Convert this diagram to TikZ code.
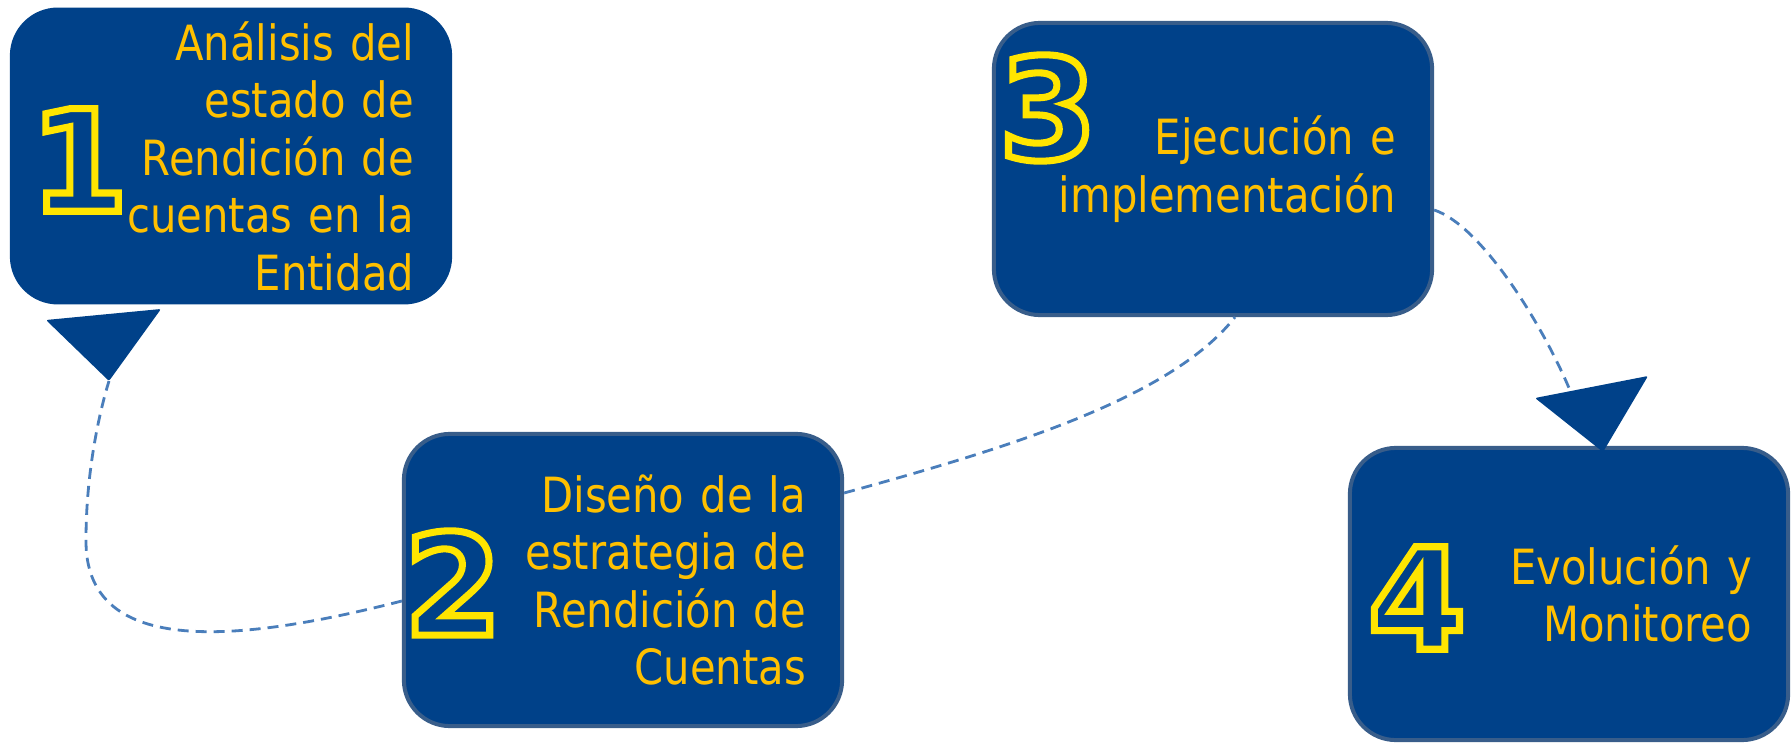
\documentclass[tikz,border=0pt]{standalone}
\usepackage{fontspec}
\usepackage{xcolor}
\usetikzlibrary{calc}

\newfontfamily\cajafont{DejaVu Sans}[FakeStretch=0.86]
\newfontfamily\numfont{DejaVu Sans}

\definecolor{azul}{RGB}{0,65,137}
\definecolor{borde}{HTML}{385D8A}
\definecolor{linea}{HTML}{4A7EBB}
\definecolor{oro}{HTML}{FFC000}

% outlined digit (stroke only, yellow)
\newcommand{\contorno}[1]{\special{pdf:code q 1 Tr 2 w 1 0.9 0 RG}#1\special{pdf:code Q}}

\begin{document}
\begin{tikzpicture}[
        x=0.01cm, y=-0.01cm,
        caja/.style={fill=azul, draw=borde, line width=0.04cm, rounded corners=0.46cm,
                     text=oro, align=right, text width=3.66cm, inner xsep=0.36cm,
                     minimum height=2.92cm,
                     font=\cajafont\fontsize{13.8}{16.35}\selectfont},
        num/.style={inner sep=0pt, font=\numfont\bfseries\fontsize{40}{40}\selectfont},
        punta/.style={fill=azul, rounded corners=0.02cm},
        guion/.style={linea, line width=0.028cm, dash pattern=on 0.11cm off 0.07cm}
    ]
        \useasboundingbox (0,0) rectangle (1791,743);
        \node[caja, draw=azul] (b1) at (231,156) {Análisis del\\estado de\\Rendición de\\cuentas en la\\Entidad};
        \node[caja] (b2) at (623,580) {Diseño de la\\estrategia de\\Rendición de\\Cuentas};
        \node[caja] (b3) at (1213,169) {Ejecución e\\implementación};
        \node[caja] (b4) at (1569,594) {Evolución y\\Monitoreo};
        \node[num] (n1) at (79,160) {\contorno{1}};
        \node[num] (n2) at (453,583) {\contorno{2}};
        \node[num] (n3) at (1048,108) {\contorno{3}};
        \node[num] (n4) at (1417,598) {\contorno{4}};
        % big triangle heads
        \coordinate (t1a) at (46,320); \coordinate (t1b) at (161,309); \coordinate (p1) at (109,381);
        \coordinate (t4a) at (1535,398); \coordinate (t4b) at (1648,376); \coordinate (t4c) at (1603,452);
        \coordinate (p4) at (1569,388);
        \fill[punta] (t1a) -- (t1b) -- (p1) -- cycle;
        \fill[punta] (t4a) -- (t4b) -- (t4c) -- cycle;
        \draw[guion] ($(b2.west)+(0,21)$) .. controls (230,645) and (85,655) .. (86,540)
            .. controls (86,470) and (100,410) .. (p1);
        \draw[guion] ($(b2.east)+(0,-87)$) .. controls (1000,450) and (1170,400) .. ($(b3.south)+(22,0)$);
        \draw[guion] ($(b3.east)+(0,41)$) .. controls (1480,225) and (1540,320) .. (p4);
    \end{tikzpicture}
\end{document}
